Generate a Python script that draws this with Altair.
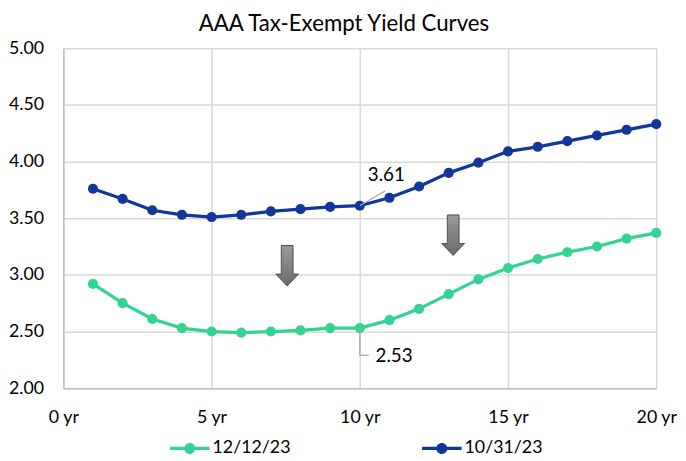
import altair as alt
import pandas as pd

# ---- data ----
maturities = list(range(1, 21))
yield_121223 = [2.92, 2.75, 2.61, 2.53, 2.50, 2.49, 2.50, 2.51, 2.53, 2.53,
                2.60, 2.70, 2.83, 2.96, 3.06, 3.14, 3.20, 3.25, 3.32, 3.37]
yield_103123 = [3.76, 3.67, 3.57, 3.53, 3.51, 3.53, 3.56, 3.58, 3.60, 3.61,
                3.68, 3.78, 3.90, 3.99, 4.09, 4.13, 4.18, 4.23, 4.28, 4.33]
series_names = ["12/12/23", "10/31/23"]
series_colors = ["#33d391", "#12369a"]
x_ticks = [0, 5, 10, 15, 20]
y_ticks = [2.0, 2.5, 3.0, 3.5, 4.0, 4.5, 5.0]

# annotations
label_text = ["3.61", "2.53"]
label_x = [10.27, 10.53]
label_y = [3.88, 2.285]
leader_x = [10.0, 10.0, 10.0]
leader_y = [3.61, 2.53, 2.29]
leader_x2 = [10.85, 10.0, 10.3]
leader_y2 = [3.74, 2.29, 2.29]
arrow_x = [7.55, 13.15]
arrow_y = [3.08, 3.35]

FONT = "Lato"

rows = []
for m, a, b in zip(maturities, yield_121223, yield_103123):
    rows.append({"maturity": m, "yield": a, "series": series_names[0]})
    rows.append({"maturity": m, "yield": b, "series": series_names[1]})
df = pd.DataFrame(rows)

labels_df = pd.DataFrame({"x": label_x, "y": label_y, "text": label_text})
leader_df = pd.DataFrame({"x": leader_x, "y": leader_y, "x2": leader_x2, "y2": leader_y2})
arrow_df = pd.DataFrame({"x": arrow_x, "y": arrow_y})

xscale = alt.Scale(domain=[0, 20], nice=False)
yscale = alt.Scale(domain=[2, 5], nice=False)
cscale = alt.Scale(domain=series_names, range=series_colors)

x_axis = alt.Axis(values=x_ticks, labelExpr="datum.value + ' yr'", title=None,
                  labelPadding=21, labelFlush=False, grid=True)
y_axis = alt.Axis(values=y_ticks, format=".2f", title=None, labelPadding=20, grid=True)

legend_symbol = ("M-1,-0.08L-0.25,-0.08L-0.25,0.08L-1,0.08Z "
                 "M0.25,-0.08L1,-0.08L1,0.08L0.25,0.08Z "
                 "M0.28,0A0.28,0.28,0,1,1,-0.28,0A0.28,0.28,0,1,1,0.28,0Z")

legend = alt.Legend(
    title=None, orient="none", legendX=108, legendY=385, direction="horizontal",
    symbolType=legend_symbol, symbolSize=1600, symbolStrokeWidth=0, symbolOpacity=1,
    labelFont=FONT, labelFontSize=18, labelColor="#000000", labelOffset=3,
    columnPadding=133,
)

base = alt.Chart(df)

points = base.mark_circle(size=105, opacity=1).encode(
    x=alt.X("maturity:Q", scale=xscale, axis=x_axis),
    y=alt.Y("yield:Q", scale=yscale, axis=y_axis),
    color=alt.Color("series:N", scale=cscale, legend=legend, sort=series_names),
)

lines = base.mark_line(strokeWidth=3.3).encode(
    x=alt.X("maturity:Q", scale=xscale),
    y=alt.Y("yield:Q", scale=yscale),
    color=alt.Color("series:N", scale=cscale, legend=legend, sort=series_names),
)

leaders = alt.Chart(leader_df).mark_rule(color="#a6a6a6", strokeWidth=1.3).encode(
    x=alt.X("x:Q", scale=xscale), y=alt.Y("y:Q", scale=yscale),
    x2="x2:Q", y2="y2:Q",
)

labels = alt.Chart(labels_df).mark_text(
    font=FONT, fontSize=19, color="#000000", align="left", baseline="middle"
).encode(
    x=alt.X("x:Q", scale=xscale), y=alt.Y("y:Q", scale=yscale), text="text:N"
)

arrow_path = ("M-0.29,-1L0.29,-1L0.29,0.41L0.56,0.41L0,1L-0.56,0.41L-0.29,0.41Z")
arrows = alt.Chart(arrow_df).mark_point(
    shape=arrow_path, size=1681, filled=True, opacity=1,
    fill=alt.LinearGradient(
        gradient="linear",
        stops=[alt.GradientStop(offset=0, color="#9a9a9a"),
               alt.GradientStop(offset=1, color="#6a6a6a")],
        x1=0, x2=0, y1=0, y2=1),
    stroke="#4d4d4d", strokeWidth=1,
).encode(x=alt.X("x:Q", scale=xscale), y=alt.Y("y:Q", scale=yscale))

chart = alt.layer(points, lines, leaders, labels, arrows).properties(
    width=600, height=344,
    autosize=alt.AutoSizeParams(type="none"),
    padding={"left": 56, "top": 38, "right": 22, "bottom": 71},
    title=alt.TitleParams("AAA Tax-Exempt Yield Curves", font=FONT, fontSize=22.5,
                          fontWeight="normal", color="#000000", anchor="middle",
                          dx=-16, offset=4),
).configure_axis(
    labelFont=FONT, labelFontSize=18, labelColor="#000000",
    gridColor="#d9d9d9", gridWidth=1.5, domainColor="#bfbfbf", domainWidth=1.5,
    ticks=False,
).configure_view(strokeWidth=0)

chart.save("out.html", embed_options={"renderer": "svg", "actions": False})
